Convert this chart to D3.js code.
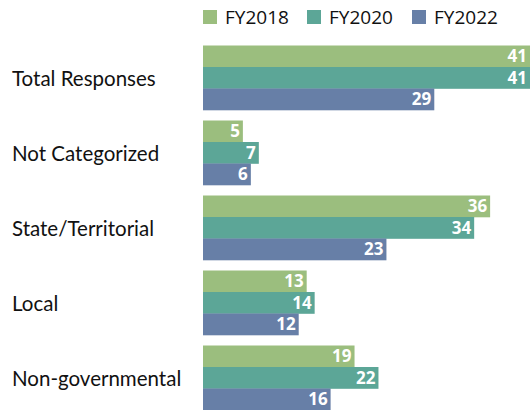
<!DOCTYPE html>
<html>
<head>
<meta charset="utf-8">
<script src="https://cdn.jsdelivr.net/npm/d3@7"></script>
<style>
  body { margin: 0; background: #fff; }
  svg { display: block; }
</style>
</head>
<body>
<div id="chart"></div>
<script>
// data
var categories = ["Total Responses", "Not Categorized", "State/Territorial", "Local", "Non-governmental"];
var seriesNames = ["FY2018", "FY2020", "FY2022"];
var fy2018 = [41, 5, 36, 13, 19];
var fy2020 = [41, 7, 34, 14, 22];
var fy2022 = [29, 6, 23, 12, 16];
var colors = ["#9bbe7e", "#5ca697", "#677fa7"];

var seriesVals = [fy2018, fy2020, fy2022];
var W = 532, H = 410;

var svg = d3.select("#chart").append("svg")
    .attr("width", W).attr("height", H);

var x = d3.scaleLinear().domain([0, 41]).range([203, 530]);

// step 75, bar group 64.5 tall
var y0 = d3.scaleBand()
    .domain(categories)
    .range([45.5, 45.5 + 75 * 4 + 64.5])
    .paddingInner(0.14)
    .paddingOuter(0);

var y1 = d3.scaleBand()
    .domain(seriesNames)
    .range([0, y0.bandwidth()]);

// category labels
svg.append("g").selectAll("text")
    .data(categories)
    .enter().append("text")
    .attr("x", 12)
    .attr("y", function(d){ return y0(d) + y0.bandwidth() / 2 + 1; })
    .attr("dy", "0.35em")
    .style("font-family", "Lato, sans-serif")
    .style("font-size", "20.5px")
    .style("fill", "#111")
    .text(function(d){ return d; });

// bars
var groups = svg.append("g").selectAll("g")
    .data(categories)
    .enter().append("g")
    .attr("transform", function(d){ return "translate(0," + y0(d) + ")"; });

groups.each(function(cat, ci){
    var g = d3.select(this);
    seriesNames.forEach(function(s, si){
        var v = seriesVals[si][ci];
        g.append("rect")
            .attr("x", x(0))
            .attr("y", y1(s))
            .attr("width", x(v) - x(0))
            .attr("height", y1.bandwidth() + 0.3)
            .attr("fill", colors[si]);
        g.append("text")
            .attr("x", x(v) - 3)
            .attr("y", y1(s) + y1.bandwidth() / 2)
            .attr("dy", "0.36em")
            .attr("text-anchor", "end")
            .style("font-family", "'Open Sans', sans-serif")
            .style("font-weight", "bold")
            .style("font-size", "17px")
            .style("fill", "#fff")
            .text(v);
    });
});

// legend
var legendX = [203, 307, 412];
var legend = svg.append("g").selectAll("g")
    .data(seriesNames)
    .enter().append("g")
    .attr("transform", function(d, i){ return "translate(" + legendX[i] + ",10)"; });

legend.append("rect")
    .attr("width", 14).attr("height", 14)
    .attr("fill", function(d, i){ return colors[i]; });

legend.append("text")
    .attr("x", 22)
    .attr("y", 7)
    .attr("dy", "0.36em")
    .style("font-family", "'Open Sans', sans-serif")
    .style("font-size", "19px")
    .style("fill", "#111")
    .text(function(d){ return d; });
</script>
</body>
</html>
